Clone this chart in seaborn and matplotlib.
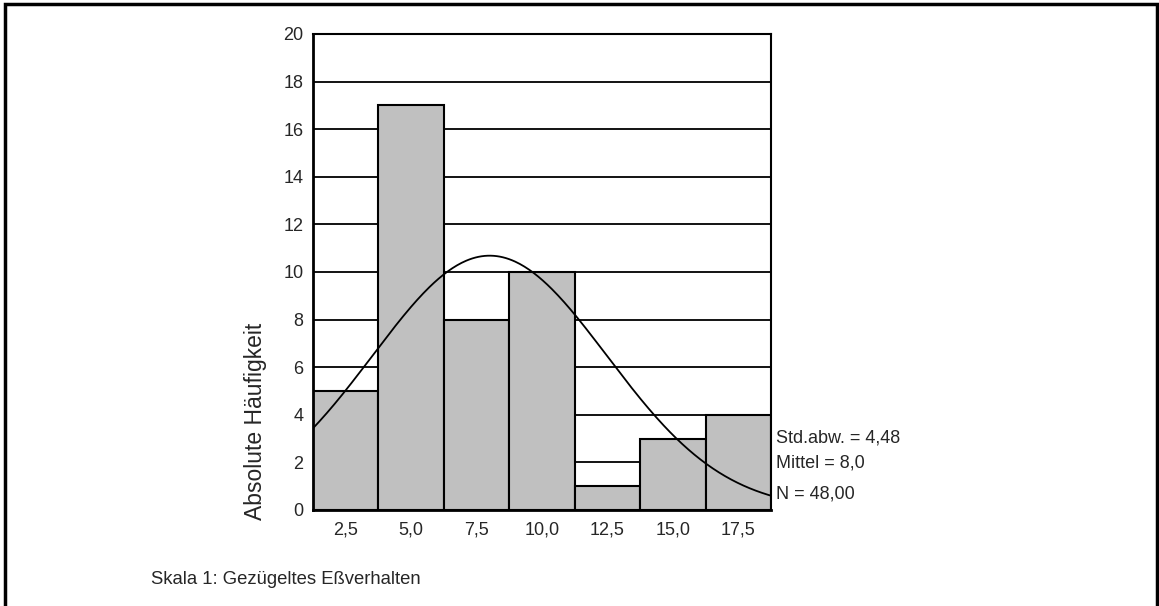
import numpy as np
import pandas as pd
import matplotlib
matplotlib.use("Agg")
import matplotlib.pyplot as plt
import seaborn as sns
from matplotlib.patches import Rectangle

# ---- data ----
bin_centers = [2.5, 5.0, 7.5, 10.0, 12.5, 15.0, 17.5]
counts = [5, 17, 8, 10, 1, 3, 4]
bin_width = 2.5
x_tick_labels = ["2,5", "5,0", "7,5", "10,0", "12,5", "15,0", "17,5"]
y_ticks = [0, 2, 4, 6, 8, 10, 12, 14, 16, 18, 20]
stat_mean = 8.0
stat_sd = 4.48
stat_n = 48
stat_lines = ["Std.abw. = 4,48", "Mittel = 8,0", "N = 48,00"]
y_label = "Absolute Häufigkeit"
x_title = "Skala 1: Gezügeltes Eßverhalten"

sns.set_style("white")
plt.rcParams["font.family"] = ["Liberation Sans", "DejaVu Sans"]

fig = plt.figure(figsize=(11.59, 6.06), dpi=100)
ax = fig.add_axes([313 / 1159, 1 - 510 / 606, (771 - 313) / 1159, (510 - 34) / 606])

edges = [c - bin_width / 2 for c in bin_centers] + [bin_centers[-1] + bin_width / 2]
df = pd.DataFrame({"x": bin_centers, "w": counts})
sns.histplot(data=df, x="x", weights="w", bins=edges, ax=ax,
             color="#c0c0c0", edgecolor="black", linewidth=1.5, alpha=1.0)

# fitted normal curve from the displayed statistics
xs = np.linspace(edges[0], edges[-1], 300)
ys = stat_n * bin_width / (stat_sd * np.sqrt(2 * np.pi)) * np.exp(-0.5 * ((xs - stat_mean) / stat_sd) ** 2)
sns.lineplot(x=xs, y=ys, ax=ax, color="black", linewidth=1.3)

ax.set_xlim(edges[0], edges[-1])
ax.set_ylim(0, 20)
ax.set_yticks(y_ticks)
ax.set_yticklabels([str(t) for t in y_ticks], fontsize=13)
ax.set_xticks(bin_centers)
ax.set_xticklabels(x_tick_labels, fontsize=13)
ax.tick_params(axis="both", direction="out", length=3, width=3, color="black", pad=4)
ax.tick_params(axis="x", pad=5)

ax.set_axisbelow(True)
ax.yaxis.grid(True, color="black", linewidth=1.3)
ax.xaxis.grid(False)

for side in ["left", "bottom"]:
    ax.spines[side].set_linewidth(2)
    ax.spines[side].set_color("black")
for side in ["top", "right"]:
    ax.spines[side].set_linewidth(1.5)
    ax.spines[side].set_color("black")

ax.set_xlabel("")
ax.set_ylabel("")
fig.text(255.5 / 1159, 1 - 421 / 606, y_label, fontsize=16.5, rotation=90,
         ha="center", va="center")

# statistics text to the right of the plot
for s, yy in zip(stat_lines, [438, 463, 494]):
    fig.text(776 / 1159, 1 - yy / 606, s, fontsize=13, ha="left", va="center")

fig.text(151 / 1159, 1 - 580 / 606, x_title, fontsize=13.3, ha="left", va="center")

# outer frame
fig.patches.append(Rectangle((5 / 1159, -0.1), (1157 - 5) / 1159, 1.1 - 4 / 606,
                             transform=fig.transFigure, fill=False,
                             edgecolor="black", linewidth=2.5))

fig.savefig("out.png", dpi=100)
